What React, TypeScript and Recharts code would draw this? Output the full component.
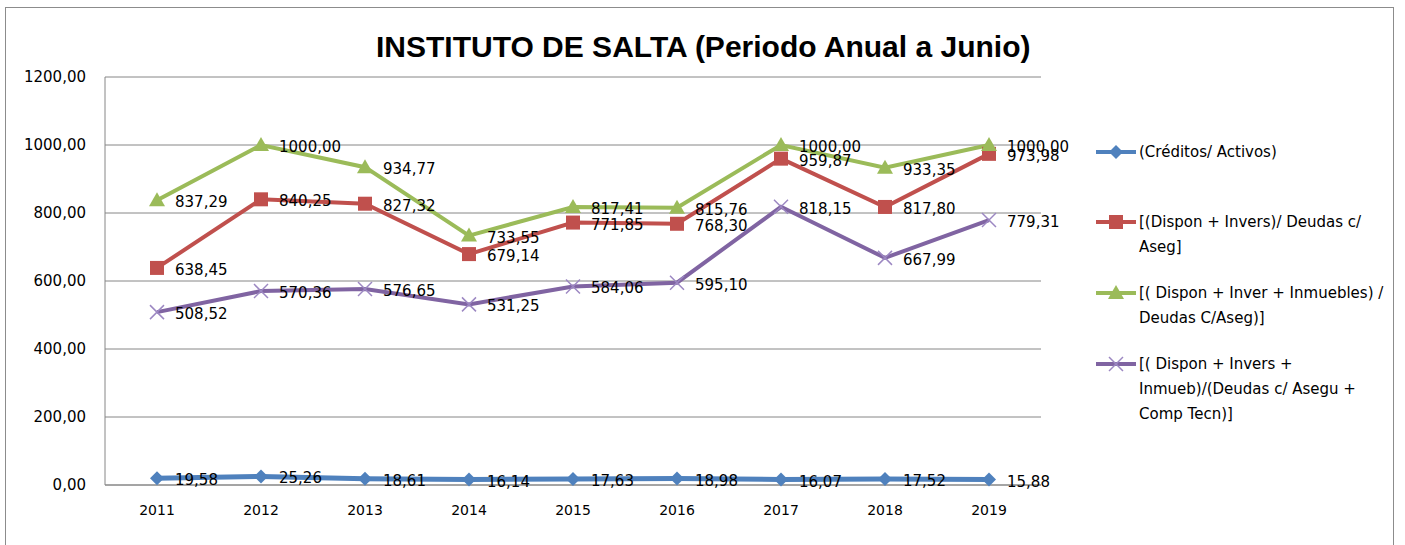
import React from 'react';
import { LineChart, Line, XAxis, YAxis, CartesianGrid, LabelList } from 'recharts';

const YEARS = ['2011', '2012', '2013', '2014', '2015', '2016', '2017', '2018', '2019'];
const CREDITOS = [19.58, 25.26, 18.61, 16.14, 17.63, 18.98, 16.07, 17.52, 15.88];
const DISPON_INVERS = [638.45, 840.25, 827.32, 679.14, 771.85, 768.3, 959.87, 817.8, 973.98];
const DISPON_INVER_INMUEBLES = [837.29, 1000, 934.77, 733.55, 817.41, 815.76, 1000, 933.35, 1000];
const DISPON_INVERS_INMUEB = [508.52, 570.36, 576.65, 531.25, 584.06, 595.1, 818.15, 667.99, 779.31];
const Y_TICKS = [0, 200, 400, 600, 800, 1000, 1200];

const SERIES = [
  { key: 'creditos', values: CREDITOS, color: '#4f81bd', shape: 'diamond', lines: ['(Créditos/ Activos)'] },
  { key: 'disponInvers', values: DISPON_INVERS, color: '#c0504d', shape: 'square', lines: ['[(Dispon + Invers)/ Deudas c/', 'Aseg]'] },
  { key: 'disponInverInmuebles', values: DISPON_INVER_INMUEBLES, color: '#9bbb59', shape: 'triangle', lines: ['[( Dispon + Inver + Inmuebles) /', 'Deudas C/Aseg)]'] },
  { key: 'disponInversInmueb', values: DISPON_INVERS_INMUEB, color: '#8064a2', shape: 'cross', lines: ['[( Dispon + Invers +', 'Inmueb)/(Deudas c/ Asegu +', 'Comp Tecn)]'] },
];

const data = YEARS.map((year, i) => {
  const row: Record<string, string | number> = { year };
  SERIES.forEach((s) => { row[s.key] = s.values[i]; });
  return row;
});

const fmt = (v: number) => v.toFixed(2).replace('.', ',');
const FONT = '"DejaVu Sans", Verdana, sans-serif';

function Marker({ shape, color, cx, cy }: { shape: string; color: string; cx: number; cy: number }) {
  if (shape === 'diamond') {
    return <polygon points={`${cx},${cy - 7} ${cx + 7},${cy} ${cx},${cy + 7} ${cx - 7},${cy}`} fill={color} />;
  }
  if (shape === 'square') {
    return <rect x={cx - 7} y={cy - 7} width={14} height={14} fill={color} />;
  }
  if (shape === 'triangle') {
    return <polygon points={`${cx},${cy - 8} ${cx + 8},${cy + 6} ${cx - 8},${cy + 6}`} fill={color} />;
  }
  return (
    <g stroke="#9c87c2" strokeWidth={1.5}>
      <line x1={cx - 7} y1={cy - 7} x2={cx + 7} y2={cy + 7} />
      <line x1={cx - 7} y1={cy + 7} x2={cx + 7} y2={cy - 7} />
    </g>
  );
}

const DataLabel = (props: any) => {
  const { x, y, value } = props;
  return (
    <text x={x + 18} y={y + 2} dominantBaseline="central" fontFamily={FONT} fontSize={15} fill="#000">
      {fmt(value)}
    </text>
  );
};

function LegendBox() {
  let top = 0;
  return (
    <div style={{ position: 'absolute', left: 1095, top: 140, fontFamily: FONT, fontSize: 15, color: '#000' }}>
      {SERIES.map((s, idx) => {
        const block = (
          <div key={s.key} style={{ position: 'absolute', left: 0, top, width: 300 }}>
            <svg width={42} height={24} style={{ position: 'absolute', left: 0, top: 0 }}>
              <line x1={1} y1={12} x2={41} y2={12} stroke={s.color} strokeWidth={4} />
              <Marker shape={s.shape} color={s.color} cx={21} cy={12} />
            </svg>
            {s.lines.map((l, i) => (
              <div key={i} style={{ position: 'absolute', left: 44, top: i * 25 + 3, whiteSpace: 'nowrap', lineHeight: '18px' }}>{l}</div>
            ))}
          </div>
        );
        top += idx === 0 ? 70 : 71;
        return block;
      })}
    </div>
  );
}

export default function App() {
  return (
    <div style={{ position: 'absolute', left: 0, top: 0, width: 1405, height: 545, background: '#fff', overflow: 'hidden' }}>
      <div style={{ position: 'absolute', left: 5, top: 7, width: 1387, height: 560, border: '1.5px solid #8c8c8c' }} />
      <div
        style={{
          position: 'absolute', left: 376, top: 30, whiteSpace: 'nowrap',
          fontFamily: '"Liberation Sans Narrow", "Liberation Sans", sans-serif', fontWeight: 'bold', fontSize: 30, color: '#000',
        }}
      >
        INSTITUTO DE SALTA (Periodo Anual a Junio)
      </div>
      <div style={{ position: 'absolute', left: 0, top: 0 }}>
        <LineChart width={1405} height={545} data={data} margin={{ top: 77, right: 364, bottom: 30, left: 5 }}>
          <CartesianGrid vertical={false} stroke="#868686" strokeWidth={1} />
          <XAxis
            dataKey="year"
            height={30}
            padding={{ left: 52, right: 52 }}
            axisLine={{ stroke: '#868686' }}
            tickLine={false}
            tickSize={0}
            tickMargin={20}
            tick={{ fontFamily: FONT, fontSize: 14, fill: '#000' }}
          />
          <YAxis
            width={100}
            domain={[0, 1200]}
            ticks={Y_TICKS}
            interval={0}
            tickFormatter={fmt}
            axisLine={{ stroke: '#868686' }}
            tickLine={false}
            tickSize={0}
            tickMargin={19}
            tick={{ fontFamily: FONT, fontSize: 15, fill: '#000' }}
          />
          {SERIES.map((s) => (
            <Line
              key={s.key}
              type="linear"
              dataKey={s.key}
              stroke={s.color}
              strokeWidth={s.shape === 'diamond' ? 5 : 4}
              isAnimationActive={false}
              dot={(p: any) => <Marker key={`${s.key}-${p.index}`} shape={s.shape} color={s.color} cx={p.cx} cy={p.cy} />}
              activeDot={false}
            >
              <LabelList dataKey={s.key} content={<DataLabel />} />
            </Line>
          ))}
        </LineChart>
      </div>
      <LegendBox />
    </div>
  );
}
